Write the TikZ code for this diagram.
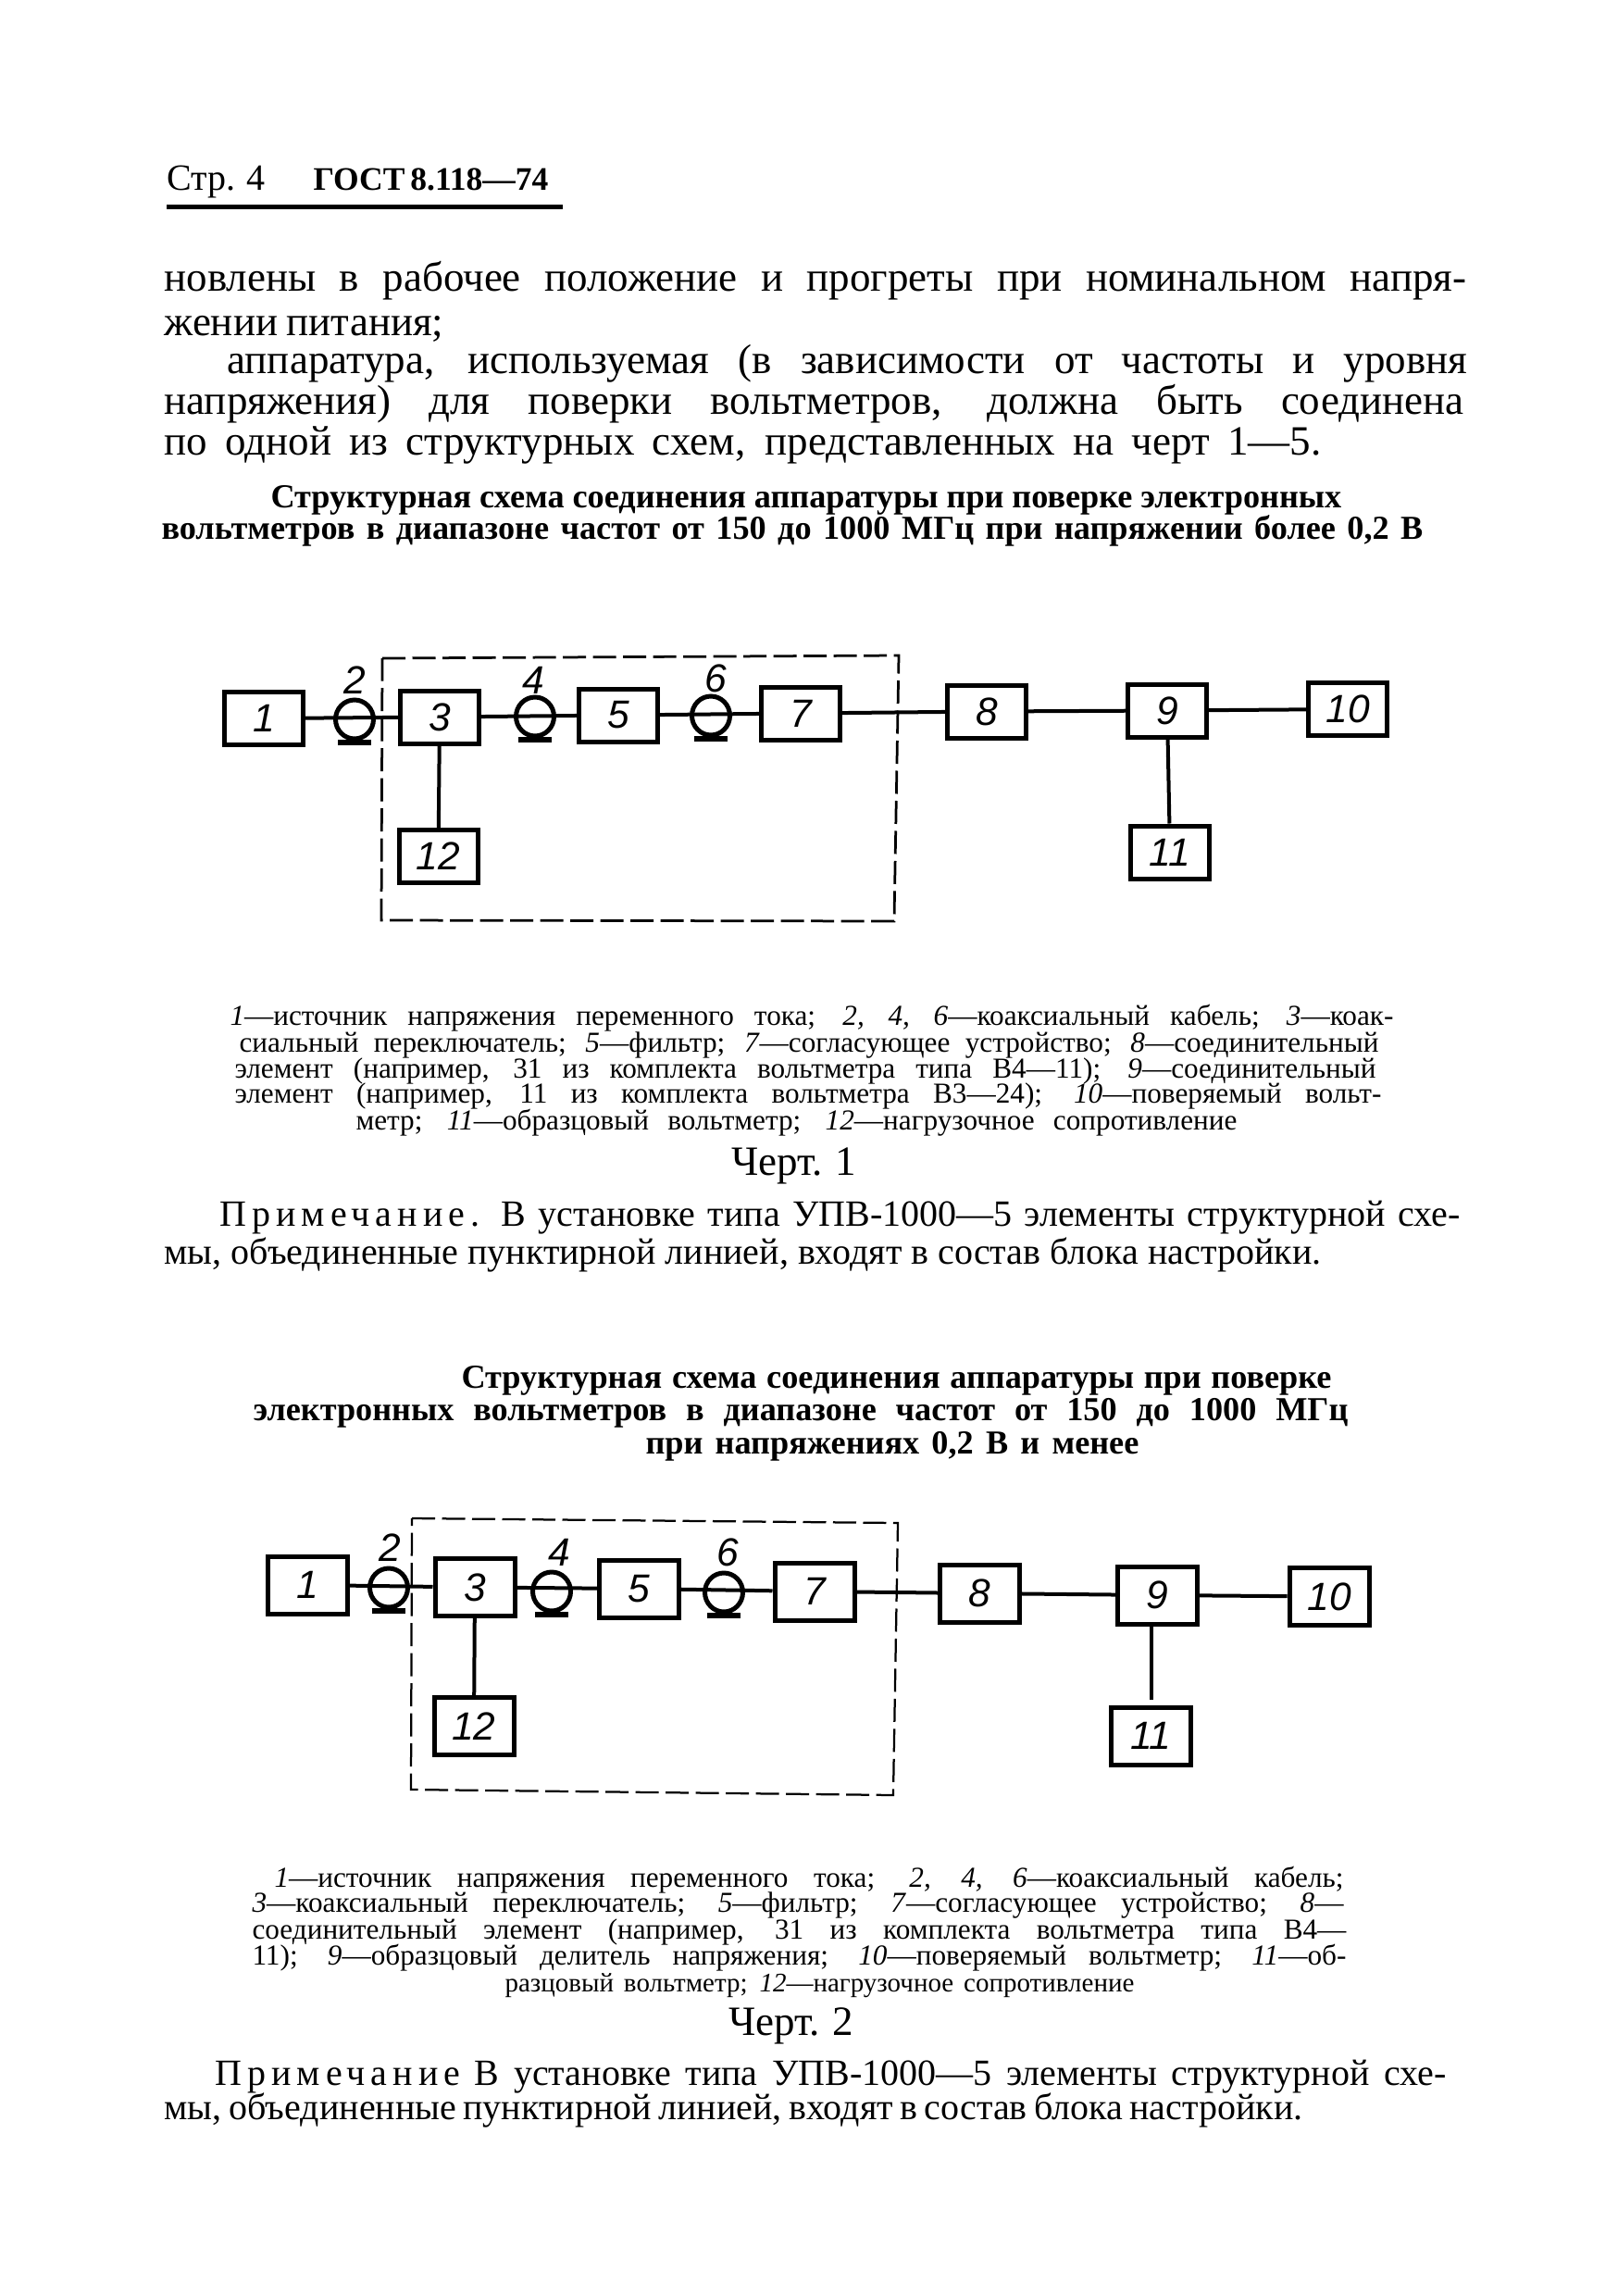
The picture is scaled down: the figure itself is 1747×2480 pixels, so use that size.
\documentclass[tikz,border=0pt]{standalone}
\usepackage{fontspec}
\setmainfont{Liberation Serif}
\setsansfont{Liberation Sans}
\usepackage{tikz}
\usetikzlibrary{shapes.geometric,calc}

\begin{document}
\begin{tikzpicture}[x=0.4pt,y=-0.4pt,
    stroka/.style={anchor=base west,inner sep=0pt},
    osnova/.style={stroka,font=\fontsize{18}{20}\selectfont},
    zametka/.style={stroka,font=\fontsize{16}{18}\selectfont},
    glava/.style={stroka,font=\fontsize{14.5}{16}\bfseries\selectfont},
    podpis/.style={stroka,font=\fontsize{12.5}{15}\selectfont},
    blok/.style={draw,line width=2pt,inner sep=0pt,font=\fontsize{17}{18}\sffamily\itshape\selectfont},
    shema/.style={blok,minimum width=34pt,minimum height=22.8pt},
    shemab/.style={blok,minimum width=34.4pt,minimum height=24.8pt},
    cifra/.style={inner sep=0pt,font=\fontsize{17}{18}\sffamily\itshape\selectfont},
    provod/.style={line width=1.6pt},
    ramka/.style={line width=1.1pt,dash pattern=on 10pt off 3pt}]
  \def\stroka#1#2#3#4#5#6{%
    \pgfmathsetlengthmacro\shir{(#4-#3)*0.4pt}
    \node[#1] (#2) at (#3,#5) {\makebox[\shir][s]{#6}};}
  \def\kabel#1#2#3{%
    \node[ellipse,draw,line width=2pt,inner sep=0pt,minimum width=16.4pt,minimum height=16.8pt] (#1) at (#2,#3) {};
    \draw[line width=2.4pt] ($(#1.south)+(-18,1)$) -- ($(#1.south)+(18,1)$);}
  \useasboundingbox (0,0) rectangle (1747,2480);
  % head of page
  \node[stroka,font=\fontsize{16}{18}\selectfont] (str) at (180,205) {\makebox[40pt][s]{Стр. 4}};
  \node[stroka,font=\fontsize{14.2}{18}\bfseries\selectfont] (gost) at (338,205) {\makebox[100.8pt][s]{ГОСТ 8.118—74}};
  \draw[line width=2pt] (180,223) -- (608,223);
  % text above
  \stroka{osnova}{t1}{177}{1584}{314}{новлены в рабочее положение и прогреты при номинальном напря-}
  \stroka{osnova}{t2}{177}{479}{362}{жении питания;}
  \stroka{osnova}{t3}{245}{1585}{403}{аппаратура, используемая (в зависимости от частоты и уровня}
  \stroka{osnova}{t4}{177}{1581}{447}{напряжения) для поверки вольтметров, должна быть соединена}
  \stroka{osnova}{t5}{177}{1427}{491}{по одной из структурных схем, представленных на черт 1—5.}
  \stroka{glava}{g1}{292}{1449}{548}{Структурная схема соединения аппаратуры при поверке электронных}
  \stroka{glava}{g2}{174}{1537}{582}{вольтметров в диапазоне частот от 150 до 1000 МГц при напряжении более 0,2 В}
  % first scheme
  \node[shema] (a1) at (285,776) {1};
  \node[shema] (a3) at (475,774.5) {3};
  \node[shema] (a5) at (668,772.5) {5};
  \node[shema] (a7) at (865,770.5) {7};
  \node[shema] (a12) at (473.5,925) {12};
  \node[shema] (a8) at (1066,768.5) {8};
  \node[shema] (a9) at (1261,767.5) {9};
  \node[shema] (a10) at (1456,766) {10};
  \node[shema] (a11) at (1264,920.5) {11};
  \kabel{a2}{383}{777}
  \kabel{a4}{578}{774}
  \kabel{a6}{768}{773}
  \node[cifra] (n2) at (383,735) {2};
  \node[cifra] (n4) at (576,735) {4};
  \node[cifra] (n6) at (773,733) {6};
  \draw[provod] (a1) -- (a3);
  \draw[provod] (a3) -- (a5);
  \draw[provod] (a5) -- (a7);
  \draw[provod] (a7) -- (a8);
  \draw[provod] (a8) -- (a9);
  \draw[provod] (a9) -- (a10);
  \draw[provod] (a3) -- (a12);
  \draw[provod] (a9) -- (a11);
  \draw[ramka] (413,711) -- (971,708) -- (966,995) -- (412,994) -- cycle;
  % legend of first scheme
  \stroka{podpis}{p1}{248}{1505}{1107}{\textit{1}—источник напряжения переменного тока; \textit{2, 4, 6}—коаксиальный кабель; \textit{3}—коак-}
  \stroka{podpis}{p2}{258}{1489}{1136}{сиальный переключатель; \textit{5}—фильтр; \textit{7}—согласующее устройство; \textit{8}—соединительный}
  \stroka{podpis}{p3}{253}{1486}{1164}{элемент (например, 31 из комплекта вольтметра типа В4—11); \textit{9}—соединительный}
  \stroka{podpis}{p4}{253}{1492}{1191}{элемент (например, 11 из комплекта вольтметра В3—24); \textit{10}—поверяемый вольт-}
  \stroka{podpis}{p5}{384}{1336}{1220}{метр; \textit{11}—образцовый вольтметр; \textit{12}—нагрузочное сопротивление}
  \stroka{osnova}{c1}{790}{917}{1269}{Черт. 1}
  \stroka{zametka}{z1}{237}{1577}{1324}{{\addfontfeature{LetterSpace=15}Примечание.} В установке типа УПВ-1000—5 элементы структурной схе-}
  \stroka{zametka}{z2}{177}{1427}{1365}{мы, объединенные пунктирной линией, входят в состав блока настройки.}
  \stroka{glava}{g3}{498}{1438}{1499}{Структурная схема соединения аппаратуры при поверке}
  \stroka{glava}{g4}{273}{1456}{1534}{электронных вольтметров в диапазоне частот от 150 до 1000 МГц}
  \stroka{glava}{g5}{697}{1230}{1570}{при напряжениях 0,2 В и менее}
  % second scheme
  \node[shemab] (b1) at (332,1712) {1};
  \node[shemab] (b3) at (513,1714.5) {3};
  \node[shemab] (b5) at (690.5,1716) {5};
  \node[shemab] (b7) at (880,1719) {7};
  \node[shemab] (b12) at (512,1864.5) {12};
  \node[shemab] (b8) at (1058.5,1721) {8};
  \node[shemab] (b9) at (1250.5,1723) {9};
  \node[shemab] (b10) at (1436,1724.5) {10};
  \node[shemab] (b11) at (1243.5,1875) {11};
  \kabel{b2}{420}{1715}
  \kabel{b4}{596}{1719}
  \kabel{b6}{782}{1720}
  \node[cifra] (m2) at (421,1672) {2};
  \node[cifra] (m4) at (604,1677) {4};
  \node[cifra] (m6) at (786,1677) {6};
  \draw[provod] (b1) -- (b3);
  \draw[provod] (b3) -- (b5);
  \draw[provod] (b5) -- (b7);
  \draw[provod] (b7) -- (b8);
  \draw[provod] (b8) -- (b9);
  \draw[provod] (b9) -- (b10);
  \draw[provod] (b3) -- (b12);
  \draw[provod,shorten >=2.4pt] (b11.north |- b9.south) -- (b11.north);
  \draw[ramka,line width=0.9pt] (445,1640) -- (970,1645) -- (965,1939) -- (444,1933) -- cycle;
  % legend of second scheme
  \stroka{podpis}{q1}{296}{1451}{2038}{\textit{1}—источник напряжения переменного тока; \textit{2, 4, 6}—коаксиальный кабель;}
  \stroka{podpis}{q2}{272}{1451}{2065}{\textit{3}—коаксиальный переключатель; \textit{5}—фильтр; \textit{7}—согласующее устройство; \textit{8}—}
  \stroka{podpis}{q3}{272}{1454}{2094}{соединительный элемент (например, 31 из комплекта вольтметра типа В4—}
  \stroka{podpis}{q4}{272}{1454}{2122}{11); \textit{9}—образцовый делитель напряжения; \textit{10}—поверяемый вольтметр; \textit{11}—об-}
  \stroka{podpis,font=\fontsize{11.6}{15}\selectfont}{q5}{545}{1225}{2151}{разцовый вольтметр; \textit{12}—нагрузочное сопротивление}
  \stroka{osnova}{c2}{787}{914}{2198}{Черт. 2}
  \stroka{zametka}{y1}{232}{1562}{2252}{{\addfontfeature{LetterSpace=15}Примечание} В установке типа УПВ-1000—5 элементы структурной схе-}
  \stroka{zametka}{y2}{177}{1407}{2289}{мы, объединенные пунктирной линией, входят в состав блока настройки.}
\end{tikzpicture}
\end{document}
